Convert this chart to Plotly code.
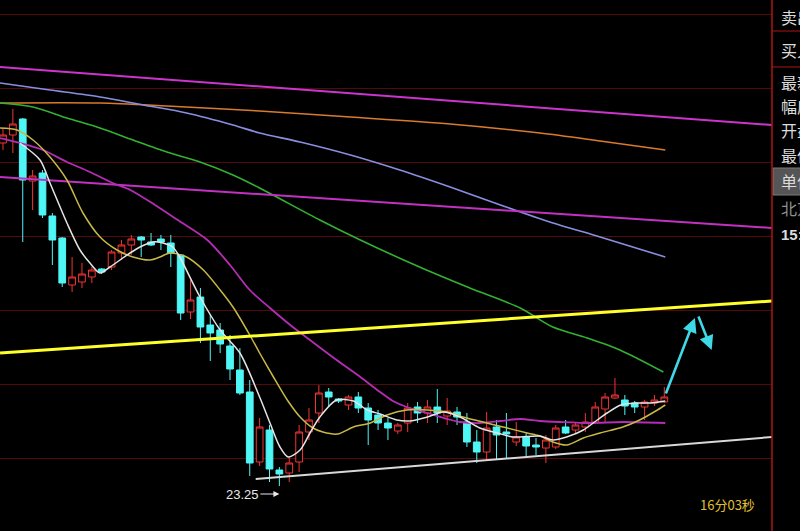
import plotly.graph_objects as go

# ---------------- data ----------------
idx = list(range(68))
opens = [30.11, 30.27, 30.59, 29.35, 29.51, 28.65, 28.21, 27.27, 27.33, 27.43,
         27.59, 27.63, 27.91, 28.07, 28.23, 28.13, 28.19, 28.11, 27.87, 26.73,
         27.03, 26.47, 26.37, 26.05, 25.57, 25.13, 23.73, 24.37, 23.57, 23.51,
         23.73, 24.33, 24.71, 25.13, 24.99, 24.87, 25.03, 24.81, 24.67, 24.51,
         24.35, 24.51, 24.83, 24.71, 24.83, 24.65, 24.73, 24.53, 24.13, 23.93,
         24.43, 24.33, 24.13, 24.23, 24.07, 24.01, 24.03, 24.43, 24.37, 24.43,
         24.53, 24.79, 25.01, 24.97, 24.91, 24.83, 24.91, 24.93]
highs = [30.41, 30.79, 30.61, 29.57, 29.57, 28.71, 28.23, 27.83, 27.71, 27.63,
         27.61, 27.97, 28.17, 28.27, 28.25, 28.31, 28.27, 28.27, 27.89, 27.37,
         27.21, 26.69, 26.51, 26.27, 26.01, 25.37, 24.61, 24.47, 23.63, 23.83,
         24.47, 24.81, 25.27, 25.21, 25.01, 25.07, 25.13, 24.91, 24.77, 24.61,
         24.51, 24.91, 24.93, 24.97, 25.19, 25.01, 24.83, 24.71, 24.37, 24.73,
         24.57, 24.71, 24.53, 24.31, 24.21, 24.27, 24.47, 24.57, 24.51, 24.71,
         24.93, 25.11, 25.41, 25.07, 24.95, 24.97, 25.07, 25.23]
lows = [29.97, 29.91, 28.13, 28.77, 28.61, 27.67, 27.23, 27.13, 27.21, 27.31,
        27.49, 27.57, 27.77, 27.87, 27.83, 28.05, 27.97, 27.63, 26.57, 26.59,
        26.11, 25.75, 25.91, 25.37, 25.07, 23.45, 23.65, 23.33, 23.25, 23.33,
        23.53, 24.17, 24.51, 24.83, 24.91, 24.77, 24.71, 24.07, 24.37, 24.17,
        24.29, 24.33, 24.51, 24.51, 24.51, 24.47, 24.47, 24.03, 23.71, 23.75,
        23.77, 23.81, 24.05, 23.85, 23.87, 23.71, 23.99, 24.29, 24.31, 24.33,
        24.49, 24.53, 24.99, 24.67, 24.71, 24.57, 24.85, 24.91]
closes = [30.27, 30.49, 29.37, 29.45, 28.67, 28.17, 27.31, 27.43, 27.49, 27.57,
          27.53, 27.93, 28.07, 28.19, 28.17, 28.07, 28.13, 27.91, 26.71, 26.97,
          26.43, 26.31, 26.09, 25.59, 25.11, 23.71, 24.43, 23.59, 23.49, 23.71,
          24.33, 24.57, 25.11, 25.03, 24.95, 25.03, 24.81, 24.57, 24.51, 24.41,
          24.47, 24.81, 24.71, 24.83, 24.71, 24.75, 24.63, 24.13, 23.93, 24.41,
          24.27, 24.29, 24.23, 24.05, 24.03, 24.17, 24.41, 24.31, 24.47, 24.53,
          24.83, 25.03, 25.07, 24.85, 24.83, 24.93, 24.97, 25.03]

# moving averages (x = bar index)
ma5_x = [1.7, 3.75, 4.76, 6.48, 7.8, 8.81, 9.83, 10.84, 12.87, 13.88, 15.2, 16.2, 17.2, 17.9,
         19.96, 22.0, 24.0, 26.0, 27.05, 28.06, 28.9, 30.1, 31.1, 32.1, 33.8, 35.5, 36.9,
         38.2, 39.9, 41.2, 43.0, 44.6, 46.3, 48.3, 50.1, 51.7, 54.4, 55.7, 57.1, 58.8,
         60.2, 61.2, 62.6, 64.2, 65.6, 67.1]
ma5_y = [30.11, 29.77, 29.31, 28.51, 27.97, 27.71, 27.51, 27.63, 27.91, 28.03, 28.13, 28.11,
         28.03, 27.83, 27.03, 26.37, 25.91, 25.03, 24.51, 24.03, 23.83, 23.97, 24.31, 24.63,
         24.97, 24.95, 24.77, 24.69, 24.57, 24.55, 24.63, 24.73, 24.63, 24.41, 24.31, 24.23,
         24.25, 24.17, 24.23, 24.37, 24.57, 24.71, 24.87, 24.91, 24.91, 24.95]
ma10_x = [-0.3, 1.42, 3.04, 4.76, 6.48, 8.1, 9.83, 11.55, 13.17, 14.9, 15.9, 16.9, 18.6,
          20.3, 22.0, 23.3, 25.0, 26.0, 27.4, 28.8, 30.1, 31.4, 32.4, 33.9, 35.5, 37.2,
          38.9, 40.9, 43.0, 45.0, 46.6, 49.0, 51.1, 53.1, 54.4, 55.7, 57.1, 58.8, 60.5,
          62.8, 64.5, 66.3, 67.1]
ma10_y = [30.41, 30.37, 30.17, 29.83, 29.37, 28.71, 28.23, 27.97, 27.83, 27.77, 27.83,
          27.91, 27.83, 27.57, 27.17, 26.83, 26.27, 25.91, 25.43, 24.97, 24.63, 24.41,
          24.33, 24.29, 24.43, 24.51, 24.67, 24.77, 24.77, 24.73, 24.63, 24.51, 24.41,
          24.31, 24.25, 24.13, 24.07, 24.21, 24.31, 24.43, 24.57, 24.77, 24.87]
ma20_x = [-0.3, 1.72, 4.05, 6.48, 8.81, 11.1, 12.9, 15.4, 17.7, 20.7, 23.0, 25.0, 27.05,
          29.1, 31.1, 33.8, 36.2, 38.2, 39.5, 40.9, 43.0, 45.0, 46.3, 48.3, 50.4, 52.4,
          54.4, 56.4, 59.5, 62.8, 67.1]
ma20_y = [30.21, 30.11, 29.97, 29.73, 29.53, 29.31, 29.17, 28.87, 28.57, 28.17, 27.67,
          27.17, 26.81, 26.47, 26.17, 25.77, 25.43, 25.13, 24.95, 24.83, 24.71, 24.59,
          24.53, 24.51, 24.55, 24.59, 24.55, 24.53, 24.51, 24.53, 24.51]
ma60_x = [-0.3, 3.04, 6.48, 9.83, 13.17, 16.6, 19.96, 23.3, 26.0, 32.1, 36.2, 42.2, 47.3,
          52.4, 55.7, 59.2, 62.5, 66.9]
ma60_y = [30.91, 30.83, 30.61, 30.41, 30.17, 29.93, 29.73, 29.47, 29.21, 28.57, 28.17,
          27.63, 27.21, 26.81, 26.43, 26.21, 25.97, 25.53]
ma120_x = [-0.3, 4.76, 9.83, 14.2, 18.6, 23.3, 26.0, 30.1, 35.2, 40.2, 45.3, 50.4, 55.4,
           60.5, 67.1]
ma120_y = [31.31, 31.17, 31.03, 30.87, 30.71, 30.47, 30.31, 30.13, 29.87, 29.57, 29.23,
           28.87, 28.53, 28.23, 27.83]
ma250_x = [-0.3, 9.83, 16.6, 26.0, 35.2, 45.3, 54.4, 60.5, 67.1]
ma250_y = [30.91, 30.91, 30.85, 30.75, 30.63, 30.49, 30.31, 30.15, 29.97]

# drawn trend lines (end points, bar index / price)
trend_top_x, trend_top_y = [-0.3, 77.91], [31.63, 30.47]
trend_mid_x, trend_mid_y = [-0.3, 77.91], [29.43, 28.41]
trend_yel_x, trend_yel_y = [-0.3, 77.91], [25.91, 26.95]
trend_wht_x, trend_wht_y = [25.6, 77.91], [23.39, 24.23]

# forecast arrows: (tail x, tail y, head x, head y)
arrow_up = [67.1, 25.07, 70.1, 26.61]
arrow_down = [70.4, 26.67, 71.8, 25.97]

low_label = "23.25"
low_idx, low_label_price = 28, 23.09
timer_text = "16分03秒"
panel_rows = ["卖出", "买入", "最新", "幅度", "开盘", "最低", "单位", "北京", "15:00:00"]

# ---------------- figure ----------------
W, H = 800, 531
R = 28
PW = W - R

fig = go.Figure()
fig.add_trace(go.Candlestick(
    x=idx, open=opens, high=highs, low=lows, close=closes,
    increasing=dict(line=dict(color="#f23434", width=1), fillcolor="#000000"),
    decreasing=dict(line=dict(color="#4ff6f6", width=1), fillcolor="#4ff6f6"),
    whiskerwidth=0, showlegend=False, hoverinfo="skip"))

def line(x, y, color, width, shape="spline"):
    fig.add_trace(go.Scatter(x=x, y=y, mode="lines", showlegend=False, hoverinfo="skip",
                             line=dict(color=color, width=width, shape=shape, smoothing=0.8)))

line(ma250_x, ma250_y, "#d97a2c", 1.6)
line(ma120_x, ma120_y, "#8a8ee0", 1.6)
line(ma60_x, ma60_y, "#33b133", 1.6)
line(trend_top_x, trend_top_y, "#cc35cc", 2, "linear")
line(trend_mid_x, trend_mid_y, "#c232c2", 2, "linear")
line(ma20_x, ma20_y, "#b52db5", 1.8)
line(ma10_x, ma10_y, "#c9b845", 1.5)
line(ma5_x, ma5_y, "#e4e4e4", 1.5)
line(trend_wht_x, trend_wht_y, "#d8d8d8", 2, "linear")
line(trend_yel_x, trend_yel_y, "#ffff2a", 3, "linear")

anns = []
for a in (arrow_up, arrow_down):
    anns.append(dict(x=a[2], y=a[3], ax=a[0], ay=a[1], xref="x", yref="y",
                     axref="x", ayref="y", text="", showarrow=True,
                     arrowhead=2, arrowsize=1.1, arrowwidth=2.6, arrowcolor="#3ed8e6"))
anns.append(dict(x=low_idx, y=low_label_price, xref="x", yref="y", text=low_label,
                 showarrow=True, ax=-37, ay=0, arrowhead=2, arrowsize=1, arrowwidth=1.2,
                 arrowcolor="#e8e8e8", font=dict(color="#e8e8e8", size=13,
                 family="Liberation Sans")))
anns.append(dict(x=727 / PW, y=1 - 504 / H, xref="paper", yref="paper", text=timer_text,
                 showarrow=False, xanchor="center", yanchor="middle",
                 font=dict(color="#e0c030", size=13, family="Noto Sans CJK SC")))

row_y = [17, 50, 82, 106, 130, 155, 181, 208, 235]
for i, (t, yy) in enumerate(zip(panel_rows, row_y)):
    col = "#909090" if t == "北京" else "#dcdcdc"
    fam = "Liberation Sans" if t.startswith("15") else "Noto Sans CJK SC"
    txt = "<b>%s</b>" % t if t.startswith("15") else t
    anns.append(dict(x=779 / PW, y=1 - yy / H, xref="paper", yref="paper", text=txt,
                     showarrow=False, xanchor="left", yanchor="middle",
                     font=dict(color=col, size=16 if not t.startswith("15") else 15,
                               family=fam)))

shapes = [
    dict(type="rect", xref="paper", yref="paper", x0=773 / PW, x1=806 / PW,
         y0=1 - 195 / H, y1=1 - 168 / H, fillcolor="#555555",
         line=dict(color="#7a7a7a", width=1), layer="below"),
    dict(type="line", xref="paper", yref="paper", x0=1, x1=1, y0=0, y1=1,
         line=dict(color="#b01515", width=1.5)),
    dict(type="line", xref="paper", yref="paper", x0=1, x1=806 / PW,
         y0=1 - 31 / H, y1=1 - 31 / H, line=dict(color="#b01515", width=1)),
    dict(type="line", xref="paper", yref="paper", x0=1, x1=806 / PW,
         y0=1 - 67 / H, y1=1 - 67 / H, line=dict(color="#b01515", width=1)),
]

fig.update_layout(
    width=W, height=H, margin=dict(l=0, r=R, t=0, b=0, pad=0),
    paper_bgcolor="#000000", plot_bgcolor="#000000",
    boxgap=0.2, boxgroupgap=0.15,
    annotations=anns, shapes=shapes, showlegend=False, hovermode=False,
    xaxis=dict(range=[-0.304, 77.91], showgrid=False, zeroline=False,
               showticklabels=False, rangeslider=dict(visible=False), fixedrange=True),
    yaxis=dict(range=[22.35, 32.97], showgrid=True, gridcolor="#520a0a", gridwidth=1,
               tick0=23.796, dtick=1.48, zeroline=False, showticklabels=False,
               fixedrange=True),
)

fig.write_html("out.html", config={"displayModeBar": False},
               post_script="document.body.style.margin='0';document.body.style.overflow='hidden';document.body.style.background='#000';")
